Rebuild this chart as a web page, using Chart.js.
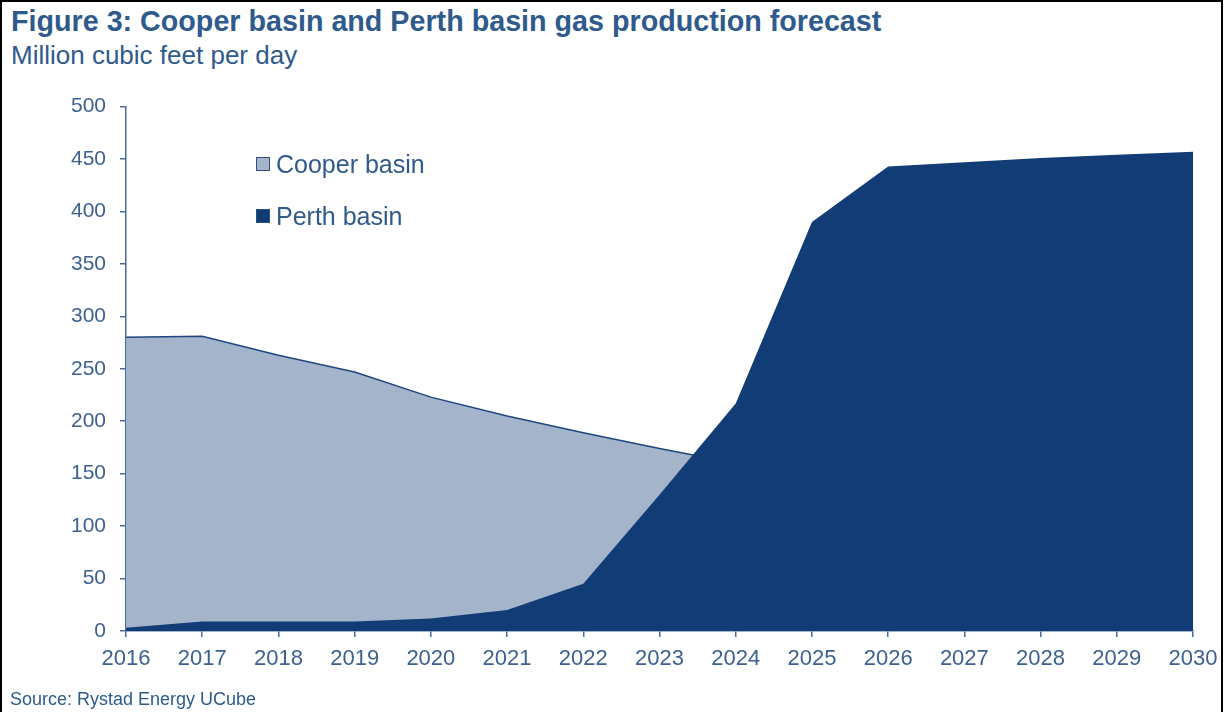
<!DOCTYPE html>
<html>
<head>
<meta charset="utf-8">
<script src="https://cdn.jsdelivr.net/npm/chart.js@4.4.1/dist/chart.umd.min.js"></script>
<style>
  html, body { margin: 0; padding: 0; background: #fff; }
  body { width: 1231px; height: 712px; position: relative; overflow: hidden; font-family: "Liberation Sans", Arial, sans-serif; }
  #frame { position: absolute; left: 0; top: 0; width: 1219px; height: 720px; border: 2px solid #000; box-sizing: content-box; }
  #title { position: absolute; left: 11px; top: 5px; font-size: 28.7px; font-weight: bold; color: #2f5a8c; white-space: nowrap; }
  #subtitle { position: absolute; left: 11px; top: 40px; font-size: 26px; color: #2f5a8c; white-space: nowrap; }
  #source { position: absolute; left: 10px; top: 689px; font-size: 18px; color: #2f5a8c; white-space: nowrap; }
  #wrap { position: absolute; left: 0; top: 80px; width: 1231px; height: 610px; }
  #legend { position: absolute; left: 256px; top: 138px; }
  .item { display: flex; align-items: center; height: 52px; font-size: 25px; color: #2f5a8c; }
  .box { width: 12px; height: 12px; border: 1px solid #2b4f80; margin-right: 6px; }
</style>
</head>
<body>
<div id="frame"></div>
<div id="title">Figure 3: Cooper basin and Perth basin gas production forecast</div>
<div id="subtitle">Million cubic feet per day</div>
<div id="wrap"><canvas id="chart"></canvas></div>
<div id="legend"></div>
<div id="source">Source: Rystad Energy UCube</div>
<script>
// Anos da previsão
const years = ['2016', '2017', '2018', '2019', '2020', '2021', '2022', '2023',
  '2024', '2025', '2026', '2027', '2028', '2029', '2030'];

// Produção (milhões de pés cúbicos por dia)
const cooperBasin = [280, 281, 263, 247, 223, 205, 189, 174, 160, 148, 137, 127, 118, 110, 102];
const perthBasin = [3, 9, 9, 9, 12, 20, 45, 130, 217, 390, 443, 447, 451, 454, 457];

const yTicks = [0, 50, 100, 150, 200, 250, 300, 350, 400, 450, 500];

const textColor = '#3d6193';
const axisColor = '#4a6c9c';
const cooperColor = '#a3b4cb';
const perthColor = '#123c76';

const ctx = document.getElementById('chart').getContext('2d');
const chart = new Chart(ctx, {
  type: 'line',
  data: {
    labels: years,
    datasets: [
      {
        // Perth desenhada por cima
        label: 'Perth basin',
        data: perthBasin,
        backgroundColor: perthColor,
        borderColor: perthColor,
        borderWidth: 0,
        pointRadius: 0,
        fill: 'origin',
        order: 1
      },
      {
        label: 'Cooper basin',
        data: cooperBasin,
        backgroundColor: cooperColor,
        borderColor: '#1f4680',
        borderWidth: 1.5,
        pointRadius: 0,
        fill: 'origin',
        order: 2
      }
    ]
  },
  options: {
    responsive: true,
    maintainAspectRatio: false,
    animation: false,
    layout: { padding: { top: 12, right: 38, bottom: 0, left: 0 } },
    plugins: {
      legend: { display: false },
      tooltip: { enabled: false }
    },
    scales: {
      x: {
        offset: false,
        grid: { drawOnChartArea: false, drawTicks: true, tickLength: 6, color: axisColor, lineWidth: 1.5 },
        border: { color: axisColor, width: 1.5 },
        ticks: { color: textColor, font: { family: 'Liberation Sans', size: 22 }, padding: 9, maxRotation: 0, autoSkip: false },
        afterFit: (scale) => { scale.height = 59; }
      },
      y: {
        min: 0,
        max: 500,
        afterBuildTicks: (scale) => { scale.ticks = yTicks.map(v => ({ value: v })); },
        grid: { drawOnChartArea: false, drawTicks: true, tickLength: 6, color: axisColor, lineWidth: 1.5 },
        border: { color: axisColor, width: 1.5 },
        ticks: { color: textColor, font: { family: 'Liberation Sans', size: 21 }, padding: 14 },
        afterFit: (scale) => { scale.width = 126; }
      }
    }
  }
});

// Legenda com Cooper primeiro
const legend = document.getElementById('legend');
[1, 0].forEach(i => {
  const ds = chart.data.datasets[i];
  const item = document.createElement('div');
  item.className = 'item';
  const box = document.createElement('div');
  box.className = 'box';
  box.style.background = ds.backgroundColor;
  item.appendChild(box);
  item.appendChild(document.createTextNode(ds.label));
  legend.appendChild(item);
});
</script>
</body>
</html>
